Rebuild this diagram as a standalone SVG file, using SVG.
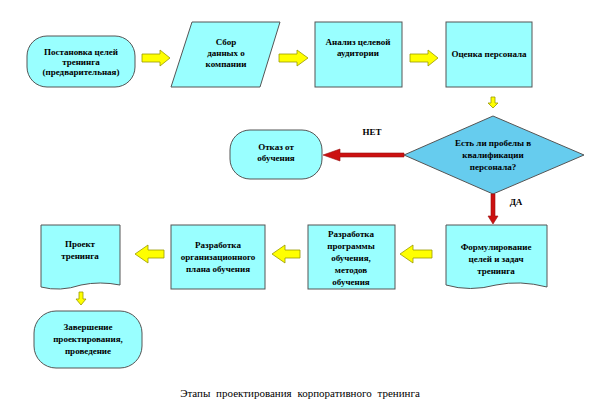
<svg xmlns="http://www.w3.org/2000/svg" width="600" height="420" viewBox="0 0 600 420">
<defs>
<style>
.n{fill:#99ffff;stroke:#555;stroke-width:1}
.d{fill:#66ccee;stroke:#555;stroke-width:1}
.t{font-family:"Liberation Serif",serif;font-size:9px;font-weight:bold;text-anchor:middle;fill:#000}
.y{fill:#ffff00;stroke:#999900;stroke-width:0.8}
.r{fill:#cc1111;stroke:#991111;stroke-width:0.6}
</style>
</defs>
<rect width="600" height="420" fill="#fff"/>
<g id="n1"><rect class="n" x="27" y="36" width="108" height="51" rx="20"/><text class="t" x="81" y="55">Постановка целей</text><text class="t" x="81" y="65">тренинга</text><text class="t" x="81" y="75">(предварительная)</text></g>
<g id="n2"><polygon class="n" points="192,22 280,22 260,87 171,87"/><text class="t" x="226" y="45">Сбор</text><text class="t" x="226" y="56">данных о</text><text class="t" x="226" y="67">компании</text></g>
<g id="n3"><rect class="n" x="315" y="22" width="87" height="65"/><text class="t" x="358" y="45">Анализ целевой</text><text class="t" x="358" y="56">аудитории</text></g>
<g id="n4"><rect class="n" x="446" y="22" width="86" height="65"/><text class="t" x="489" y="57">Оценка персонала</text></g>
<g id="n5"><polygon class="d" points="404,155 493,116 584,155 493,194"/><text class="t" x="493" y="146">Есть ли пробелы в</text><text class="t" x="493" y="158">квалификации</text><text class="t" x="493" y="170">персонала?</text></g>
<g id="n6"><rect class="n" x="230" y="130" width="92" height="49" rx="20"/><text class="t" x="276" y="150">Отказ от</text><text class="t" x="276" y="161">обучения</text></g>
<g id="n7"><path class="n" d="M446,225 H547 V287 Q520,280 496,285 Q470,292 446,285 Z"/><text class="t" x="496" y="250">Формулирование</text><text class="t" x="496" y="262">целей и задач</text><text class="t" x="496" y="274">тренинга</text></g>
<g id="n8"><rect class="n" x="308" y="225" width="87" height="64"/><text class="t" x="351" y="237">Разработка</text><text class="t" x="351" y="249">программы</text><text class="t" x="351" y="261">обучения,</text><text class="t" x="351" y="273">методов</text><text class="t" x="351" y="285">обучения</text></g>
<g id="n9"><rect class="n" x="171" y="225" width="94" height="64"/><text class="t" x="218" y="248">Разработка</text><text class="t" x="218" y="260">организационного</text><text class="t" x="218" y="272">плана обучения</text></g>
<g id="n10"><path class="n" d="M41,225 H120 V285 Q100,281 81,285 Q60,292 41,287 Z"/><text class="t" x="80" y="247">Проект</text><text class="t" x="80" y="259">тренинга</text></g>
<g id="n11"><rect class="n" x="34" y="311" width="108" height="57" rx="22"/><text class="t" x="88" y="330">Завершение</text><text class="t" x="88" y="342">проектирования,</text><text class="t" x="88" y="354">проведение</text></g>
<g id="connectors">
<polygon class="y" points="142,54 160,54 160,50 170,58 160,66 160,62 142,62"/>
<polygon class="y" points="279,54 297,54 297,50 308,58 297,66 297,62 279,62"/>
<polygon class="y" points="410,54 428,54 428,50 438,58 428,66 428,62 410,62"/>
<polygon class="y" points="491,97 495,97 495,103 498,103 493,108 488,103 491,103"/>
<polygon class="r" points="404,153 340,153 340,149 323,155 340,161 340,157 404,157"/>
<polygon class="r" points="491,194 495,194 495,216 498,216 493,224 488,216 491,216"/>
<polygon class="y" points="432,250 413,250 413,245 400,254 413,263 413,258 432,258"/>
<polygon class="y" points="300,250 285,250 285,245 272,254 285,263 285,258 300,258"/>
<polygon class="y" points="164,250 148,250 148,245 135,254 148,263 148,258 164,258"/>
<polygon class="y" points="79,292 83,292 83,299 86,299 81,305 76,299 79,299"/>
</g>
<text class="t" x="372" y="135">НЕТ</text>
<text class="t" x="516" y="205">ДА</text>
<text x="300" y="397" style="font-family:'Liberation Serif',serif;font-size:11px;text-anchor:middle;word-spacing:3px">Этапы   проектирования  корпоративного  тренинга</text>
</svg>
